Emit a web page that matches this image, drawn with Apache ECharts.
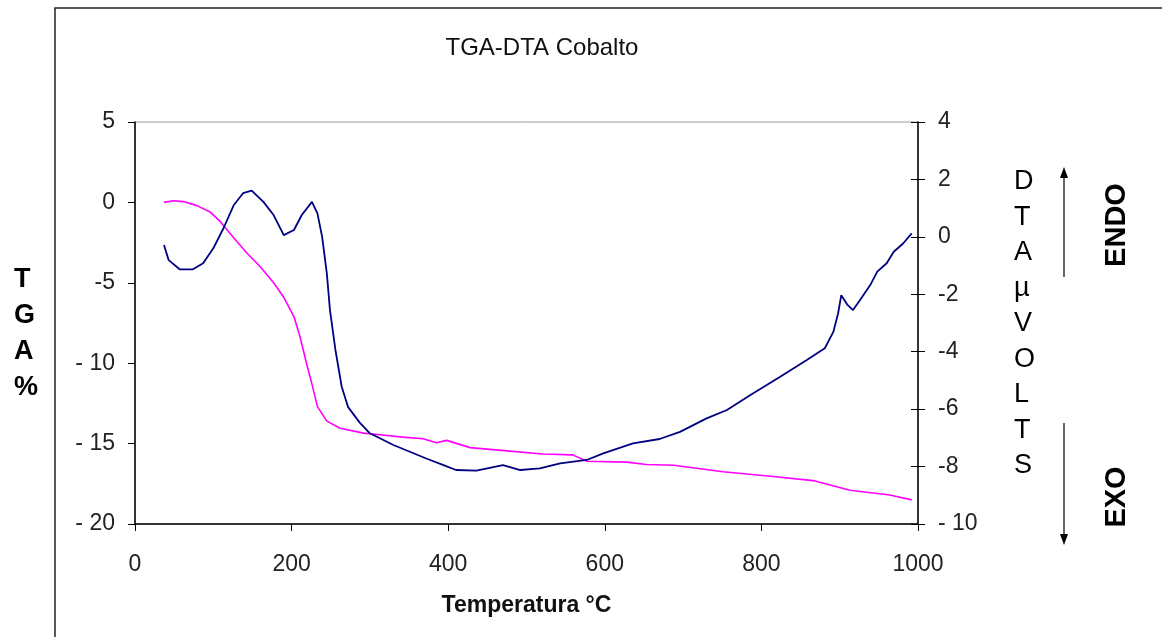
<!DOCTYPE html>
<html>
<head>
<meta charset="utf-8">
<script src="https://cdn.jsdelivr.net/npm/echarts@6/dist/echarts.min.js"></script>
<style>
  html, body { margin: 0; padding: 0; background: #fff; }
  #main { width: 1162px; height: 637px; }
</style>
</head>
<body>
<div id="main"></div>
<script>
// TGA (%), left axis
var tgaTemp = [37, 49, 62, 79, 96, 109, 126, 142, 160, 177, 190, 203, 211, 219, 226, 233, 245, 262, 292,
  313, 342, 368, 385, 398, 428, 475, 521, 559, 577, 628, 653, 688, 751, 815, 866, 913, 964, 992];
var tgaVal = [0.0, 0.1, 0.05, -0.2, -0.6, -1.2, -2.2, -3.1, -4.0, -5.0, -5.9, -7.1, -8.4, -10.0, -11.3, -12.7, -13.6, -14.05, -14.35,
  -14.45, -14.6, -14.7, -14.95, -14.8, -15.25, -15.45, -15.65, -15.7, -16.1, -16.15, -16.3, -16.35, -16.75, -17.05, -17.3, -17.9, -18.2, -18.5];

// DTA (µV), right axis
var dtaTemp = [37, 43, 57, 74, 87, 100, 113, 126, 138, 149, 164, 177, 190, 203, 213, 226, 233, 239, 245, 249,
  256, 264, 272, 287, 300, 330, 372, 394, 410, 436, 470, 492, 517, 543, 577, 598, 636, 670, 696, 730, 756,
  786, 824, 858, 881, 892, 898, 902, 910, 917, 926, 939, 948, 960, 969, 981, 992];
var dtaVal = [-0.28, -0.81, -1.13, -1.13, -0.92, -0.4, 0.3, 1.1, 1.52, 1.61, 1.22, 0.76, 0.06, 0.24, 0.76, 1.22, 0.82, 0.0, -1.27, -2.55,
  -3.94, -5.22, -5.92, -6.47, -6.84, -7.25, -7.72, -7.95, -8.12, -8.14, -7.95, -8.12, -8.06, -7.89, -7.77, -7.54, -7.19, -7.04, -6.79, -6.32, -6.03,
  -5.51, -4.87, -4.29, -3.88, -3.3, -2.66, -2.03, -2.37, -2.55, -2.2, -1.68, -1.21, -0.92, -0.52, -0.23, 0.12];

var xTicks = { min: 0, max: 1000, interval: 200 };
var tgaTicks = { min: -20, max: 5, interval: 5 };
var dtaTicks = { min: -10, max: 4, interval: 2 };

function pairs(xs, ys) {
  var out = [];
  for (var i = 0; i < xs.length; i++) out.push([xs[i], ys[i]]);
  return out;
}
// excel draws "- 10" with a gap for the two digit negatives
function tickFmt(v) {
  if (v < 0 && Math.abs(v) >= 10) return '- ' + Math.abs(v);
  return String(v);
}

var font = '"Liberation Sans", Arial, sans-serif';
var labelStyle = { color: '#222', fontSize: 23, fontFamily: font };

var chart = echarts.init(document.getElementById('main'));
var option = {
  animation: false,
  backgroundColor: '#fff',
  title: {
    text: 'TGA-DTA Cobalto',
    left: 537, top: 31, textAlign: 'center',
    textStyle: { fontSize: 24, fontWeight: 'normal', color: '#111', fontFamily: font }
  },
  grid: {
    left: 135, right: 244, top: 122, bottom: 113,
    show: true, borderColor: '#9a9a9a', borderWidth: 1, backgroundColor: '#fff'
  },
  xAxis: {
    type: 'value', min: xTicks.min, max: xTicks.max, interval: xTicks.interval,
    name: 'Temperatura °C', nameLocation: 'middle', nameGap: 70,
    nameTextStyle: { fontSize: 23, fontWeight: 'bold', color: '#111', fontFamily: font },
    axisLine: { onZero: false, lineStyle: { color: '#000', width: 1.5 } },
    axisTick: { length: 7, lineStyle: { color: '#000' } },
    axisLabel: Object.assign({ margin: 29, formatter: function (v) { return String(v); } }, labelStyle),
    splitLine: { show: false }
  },
  yAxis: [{
    type: 'value', position: 'left', min: tgaTicks.min, max: tgaTicks.max, interval: tgaTicks.interval,
    axisLine: { show: true, onZero: false, lineStyle: { color: '#000', width: 1.5 } },
    axisTick: { show: true, length: 7, lineStyle: { color: '#000' } },
    axisLabel: Object.assign({ margin: 20, formatter: tickFmt }, labelStyle),
    splitLine: { show: false }
  }, {
    type: 'value', position: 'right', min: dtaTicks.min, max: dtaTicks.max, interval: dtaTicks.interval,
    axisLine: { show: true, onZero: false, lineStyle: { color: '#000', width: 1.5 } },
    axisTick: { show: true, length: 7, lineStyle: { color: '#000' } },
    axisLabel: Object.assign({ margin: 20, formatter: tickFmt }, labelStyle),
    splitLine: { show: false }
  }, {
    // inner half of the crossing ticks on the right axis
    type: 'value', position: 'right', min: dtaTicks.min, max: dtaTicks.max, interval: dtaTicks.interval,
    axisLine: { show: false, onZero: false },
    axisTick: { show: true, inside: true, length: 7, lineStyle: { color: '#000' } },
    axisLabel: { show: false },
    splitLine: { show: false }
  }],
  series: [{
    name: 'TGA', type: 'line', yAxisIndex: 0, data: pairs(tgaTemp, tgaVal),
    showSymbol: false, lineStyle: { color: '#ff00ff', width: 1.6 }, z: 3
  }, {
    name: 'DTA', type: 'line', yAxisIndex: 1, data: pairs(dtaTemp, dtaVal),
    showSymbol: false, lineStyle: { color: '#000080', width: 1.8 }, z: 4
  }],
  graphic: [
    { type: 'polyline', shape: { points: [[55, 700], [55, 8], [1200, 8]] }, style: { stroke: '#222', lineWidth: 1.5, fill: null } },
    { type: 'text', left: 14, top: 262, style: { text: 'T\nG\nA\n%', font: 'bold 27px ' + font, fill: '#000', lineHeight: 36, align: 'center' } },
    { type: 'text', left: 1014, top: 164, style: { text: 'D\nT\nA\nµ\nV\nO\nL\nT\nS', font: '27px ' + font, fill: '#000', lineHeight: 35.5, align: 'center' } },
    { type: 'line', shape: { x1: 1064, y1: 277, x2: 1064, y2: 176 }, style: { stroke: '#000', lineWidth: 1.2 } },
    { type: 'polygon', shape: { points: [[1064, 167], [1060, 178], [1068, 178]] }, style: { fill: '#000' } },
    { type: 'line', shape: { x1: 1064, y1: 423, x2: 1064, y2: 536 }, style: { stroke: '#000', lineWidth: 1.2 } },
    { type: 'polygon', shape: { points: [[1064, 545], [1060, 534], [1068, 534]] }, style: { fill: '#000' } },
    { type: 'text', x: 1117, y: 225, rotation: Math.PI / 2, style: { text: 'ENDO', font: 'bold 29px ' + font, fill: '#000', align: 'center', verticalAlign: 'middle' } },
    { type: 'text', x: 1117, y: 497, rotation: Math.PI / 2, style: { text: 'EXO', font: 'bold 29px ' + font, fill: '#000', align: 'center', verticalAlign: 'middle' } }
  ]
};
chart.setOption(option);
</script>
</body>
</html>
